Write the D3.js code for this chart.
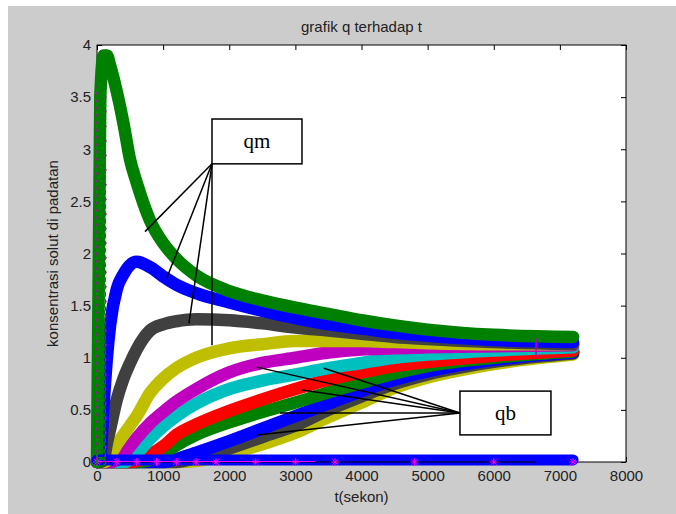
<!DOCTYPE html>
<html>
<head>
<meta charset="utf-8">
<script src="https://cdn.jsdelivr.net/npm/d3@7"></script>
<style>
  html, body { margin: 0; padding: 0; background: #fff; }
  svg { display: block; }
  text { font-family: "Liberation Sans", Arial, sans-serif; }
</style>
</head>
<body>
<div id="chart"></div>
<script>
// time grid (sekon) shared by the curves
const tGrid = [0, 50, 100, 150, 200, 300, 400, 500, 600, 800, 1000, 1200, 1500, 2000, 2500, 3000, 3500, 4000, 4500, 5000, 6000, 7200];

// qm curves (upper family)
const qmGreen  = [0, 3.5, 3.9, 3.9, 3.8, 3.55, 3.25, 2.9, 2.68, 2.32, 2.1, 1.95, 1.79, 1.64, 1.55, 1.48, 1.42, 1.36, 1.31, 1.27, 1.22, 1.2];
const qmBlue   = [0, 0.05, 0.55, 1.0, 1.32, 1.66, 1.8, 1.89, 1.92, 1.87, 1.78, 1.7, 1.62, 1.53, 1.45, 1.38, 1.32, 1.28, 1.24, 1.21, 1.17, 1.15];
const qmGray   = [0, 0, 0.02, 0.18, 0.32, 0.6, 0.8, 0.95, 1.08, 1.26, 1.32, 1.35, 1.37, 1.36, 1.33, 1.29, 1.26, 1.23, 1.2, 1.18, 1.15, 1.13];
const qmYellow = [0, 0, 0, 0.01, 0.06, 0.17, 0.26, 0.35, 0.44, 0.66, 0.8, 0.9, 1.0, 1.09, 1.13, 1.16, 1.16, 1.16, 1.15, 1.14, 1.13, 1.13];

// qb curves (lower family)
const qbMagenta = [0, 0, 0, 0, 0, 0.02, 0.07, 0.15, 0.23, 0.37, 0.48, 0.58, 0.7, 0.86, 0.95, 1.0, 1.05, 1.08, 1.09, 1.1, 1.11, 1.12];
const qbCyan    = [0, 0, 0, 0, 0, 0, 0, 0.02, 0.08, 0.22, 0.34, 0.44, 0.56, 0.7, 0.78, 0.84, 0.9, 0.95, 1.0, 1.03, 1.07, 1.1];
const qbRed     = [0, 0, 0, 0, 0, 0, 0, 0, 0.01, 0.07, 0.15, 0.26, 0.36, 0.49, 0.6, 0.7, 0.79, 0.86, 0.92, 0.96, 1.02, 1.07];
const qbGreen   = [0, 0, 0, 0, 0, 0, 0, 0, 0, 0.02, 0.08, 0.16, 0.26, 0.38, 0.48, 0.57, 0.67, 0.76, 0.85, 0.92, 1.0, 1.06];
const qbBlue    = [0, 0, 0, 0, 0, 0, 0, 0, 0, 0, 0, 0.03, 0.09, 0.2, 0.32, 0.44, 0.56, 0.68, 0.79, 0.87, 0.98, 1.05];
const qbGray    = [0, 0, 0, 0, 0, 0, 0, 0, 0, 0, 0, 0, 0.04, 0.13, 0.24, 0.35, 0.5, 0.63, 0.75, 0.84, 0.96, 1.04];
const qbYellow  = [0, 0, 0, 0, 0, 0, 0, 0, 0, 0, 0, 0, 0.01, 0.08, 0.17, 0.28, 0.43, 0.57, 0.71, 0.81, 0.94, 1.03];

// flat series along the bottom
const flatT = [0, 7200];
const flatQ = [0.02, 0.02];
const blackT = [0, 6640];
const blackQ = [0, 0];
const magentaT = [0, 3300];
const magentaQ = [0.005, 0.005];
const starT = [0, 300, 600, 900, 1200, 1500, 1800, 2400, 3000, 3600, 4800, 6000, 7200];

// small step in the curves near the end
const kinkT = 6640;
const kinkQ = [1.0, 1.19];

// marker column near t = 0
const spikeT = 60;
const spikeQ = [0, 0.07, 0.14, 0.21, 0.28, 0.35, 0.42, 0.49, 0.56, 0.63, 0.7, 0.77, 0.84, 0.91, 0.98, 1.05, 1.12,
                1.19, 1.26, 1.33, 1.4, 1.47, 1.54, 1.61, 1.68, 1.75, 1.82, 1.89, 1.96, 2.03, 2.1, 2.17, 2.24,
                2.31, 2.38, 2.45, 2.52, 2.59, 2.66, 2.73, 2.8, 2.87, 2.94, 3.01, 3.08, 3.15, 3.22, 3.29, 3.36,
                3.43, 3.5, 3.57];

// axis ticks
const xTicks = [0, 1000, 2000, 3000, 4000, 5000, 6000, 7000, 8000];
const yTicks = [0, 0.5, 1, 1.5, 2, 2.5, 3, 3.5, 4];

// annotations (data coordinates)
const qmBoxT = [1739, 3100], qmBoxQ = [3.29, 2.86];
const qmAnchor = [1739, 2.86];
const qmTargets = [[726, 2.21], [1058, 1.77], [1391, 1.33], [1739, 1.12]];
const qbBoxT = [5489, 6865], qbBoxQ = [0.68, 0.26];
const qbAnchor = [5489, 0.47];
const qbTargets = [[2419, 0.91], [3432, 0.90], [3100, 0.69], [2767, 0.47], [2419, 0.26]];

const W = 676, H = 514;
const plot = { left: 97, right: 626, top: 45, bottom: 462 };

const svg = d3.select('#chart').append('svg')
  .attr('width', W).attr('height', H);

// figure background
svg.append('rect').attr('x', 8).attr('y', 6).attr('width', W - 8).attr('height', H - 6).attr('fill', '#cccccc');
svg.append('rect')
  .attr('x', plot.left).attr('y', plot.top)
  .attr('width', plot.right - plot.left).attr('height', plot.bottom - plot.top)
  .attr('fill', '#fff');

const x = d3.scaleLinear().domain([0, 8000]).range([plot.left, plot.right]);
const y = d3.scaleLinear().domain([0, 4]).range([plot.bottom, plot.top]);

const fontSize = '15px';

// axes, ticks inside like matlab
const gx = svg.append('g').attr('transform', `translate(0,${plot.bottom})`)
  .call(d3.axisBottom(x).tickValues(xTicks).tickSize(-5).tickPadding(8).tickFormat(d3.format('d')));
const gxTop = svg.append('g').attr('transform', `translate(0,${plot.top})`)
  .call(d3.axisTop(x).tickValues(xTicks).tickSize(-5).tickFormat(''));
const gy = svg.append('g').attr('transform', `translate(${plot.left},0)`)
  .call(d3.axisLeft(y).tickValues(yTicks).tickSize(-5).tickPadding(6).tickFormat(d => d));
const gyRight = svg.append('g').attr('transform', `translate(${plot.right},0)`)
  .call(d3.axisRight(y).tickValues(yTicks).tickSize(-5).tickFormat(''));

[gx, gxTop, gy, gyRight].forEach(g => {
  g.select('.domain').remove();
  g.selectAll('.tick line').attr('stroke', '#000');
  g.selectAll('.tick text').attr('fill', '#222').style('font-size', fontSize)
    .style('font-family', '"Liberation Sans", Arial, sans-serif');
});

svg.append('rect')
  .attr('x', plot.left).attr('y', plot.top)
  .attr('width', plot.right - plot.left).attr('height', plot.bottom - plot.top)
  .attr('fill', 'none').attr('stroke', '#000').attr('stroke-width', 1);

// curves, lowest first so upper curves sit on top
const series = [
  { q: qbYellow, color: '#bfbf00' },
  { q: qbGray, color: '#404040' },
  { q: qbBlue, color: '#0000ff' },
  { q: qbGreen, color: '#008000' },
  { q: qbRed, color: '#ff0000' },
  { q: qbCyan, color: '#00bfbf' },
  { q: qbMagenta, color: '#bf00bf' },
  { q: qmYellow, color: '#bfbf00' },
  { q: qmGray, color: '#404040' },
  { q: qmBlue, color: '#0000ff' },
  { q: qmGreen, color: '#008000' }
];

const line = d3.line()
  .x(d => x(d[0]))
  .y(d => y(d[1]))
  .curve(d3.curveMonotoneX);

const bandWidth = 12.5;

const curves = svg.append('g');
series.forEach(s => {
  curves.append('path')
    .attr('d', line(tGrid.map((t, i) => [t, s.q[i]])))
    .attr('fill', 'none')
    .attr('stroke', s.color)
    .attr('stroke-width', bandWidth)
    .attr('stroke-linecap', 'round')
    .attr('stroke-linejoin', 'round');
});

svg.append('line')
  .attr('x1', x(kinkT)).attr('x2', x(kinkT))
  .attr('y1', y(kinkQ[0])).attr('y2', y(kinkQ[1]))
  .attr('stroke', '#bf00bf').attr('stroke-width', 1.5);

// flat blue along the bottom
svg.append('path')
  .attr('d', line(flatT.map((t, i) => [t, flatQ[i]])))
  .attr('fill', 'none').attr('stroke', '#0000ff')
  .attr('stroke-width', 11).attr('stroke-linecap', 'round');

svg.append('path')
  .attr('d', line(blackT.map((t, i) => [t, blackQ[i]])))
  .attr('fill', 'none').attr('stroke', '#000').attr('stroke-width', 1.2);

svg.append('path')
  .attr('d', line(magentaT.map((t, i) => [t, magentaQ[i]])))
  .attr('fill', 'none').attr('stroke', '#ff00ff').attr('stroke-width', 1);

// asterisks
const star = svg.append('g');
starT.forEach(t => {
  const cx = x(t), cy = y(0), r = 4;
  star.append('path')
    .attr('d', `M${cx},${cy - r}L${cx},${cy + r}M${cx - r},${cy}L${cx + r},${cy}` +
               `M${cx - r * 0.7},${cy - r * 0.7}L${cx + r * 0.7},${cy + r * 0.7}` +
               `M${cx - r * 0.7},${cy + r * 0.7}L${cx + r * 0.7},${cy - r * 0.7}`)
    .attr('stroke', '#ff00ff').attr('stroke-width', 1).attr('fill', 'none');
});

// marker column at the start
svg.append('line')
  .attr('x1', x(0)).attr('x2', x(0))
  .attr('y1', y(0)).attr('y2', y(3.6))
  .attr('stroke', '#bf00bf').attr('stroke-width', 2);
svg.append('g').selectAll('circle')
  .data(spikeQ)
  .enter()
  .append('circle')
  .attr('cx', x(spikeT))
  .attr('cy', d => y(d))
  .attr('r', 4.5)
  .attr('fill', 'none')
  .attr('stroke', '#008000')
  .attr('stroke-width', 1.4);
svg.append('g').selectAll('circle')
  .data(spikeQ.filter((d, i) => i % 2 === 0))
  .enter()
  .append('circle')
  .attr('cx', x(spikeT) + 5)
  .attr('cy', d => y(d))
  .attr('r', 0.9)
  .attr('fill', '#bf00bf');

// annotation pointers and boxes
const ann = svg.append('g');
qmTargets.forEach(p => {
  ann.append('line')
    .attr('x1', x(qmAnchor[0])).attr('y1', y(qmAnchor[1]))
    .attr('x2', x(p[0])).attr('y2', y(p[1]))
    .attr('stroke', '#000').attr('stroke-width', 1.5);
});
qbTargets.forEach(p => {
  ann.append('line')
    .attr('x1', x(qbAnchor[0])).attr('y1', y(qbAnchor[1]))
    .attr('x2', x(p[0])).attr('y2', y(p[1]))
    .attr('stroke', '#000').attr('stroke-width', 1.5);
});

function textBox(bt, bq, label) {
  const x0 = x(bt[0]), x1 = x(bt[1]), y0 = y(bq[0]), y1 = y(bq[1]);
  ann.append('rect')
    .attr('x', x0).attr('y', y0)
    .attr('width', x1 - x0).attr('height', y1 - y0)
    .attr('fill', '#fff').attr('stroke', '#000').attr('stroke-width', 1.5);
  ann.append('text')
    .attr('x', (x0 + x1) / 2)
    .attr('y', (y0 + y1) / 2 + 7)
    .attr('text-anchor', 'middle')
    .style('font-family', '"Liberation Serif", "Times New Roman", serif')
    .style('font-size', '21px')
    .attr('fill', '#000')
    .text(label);
}
textBox(qmBoxT, qmBoxQ, 'qm');
textBox(qbBoxT, qbBoxQ, 'qb');

// titles
svg.append('text')
  .attr('x', (plot.left + plot.right) / 2).attr('y', 32)
  .attr('text-anchor', 'middle')
  .style('font-size', fontSize).attr('fill', '#222')
  .text('grafik q terhadap t');

svg.append('text')
  .attr('x', (plot.left + plot.right) / 2).attr('y', 502)
  .attr('text-anchor', 'middle')
  .style('font-size', fontSize).attr('fill', '#222')
  .text('t(sekon)');

svg.append('text')
  .attr('transform', `translate(58,${(plot.top + plot.bottom) / 2}) rotate(-90)`)
  .attr('text-anchor', 'middle')
  .style('font-size', fontSize).attr('fill', '#222')
  .text('konsentrasi solut di padatan');
</script>
</body>
</html>
